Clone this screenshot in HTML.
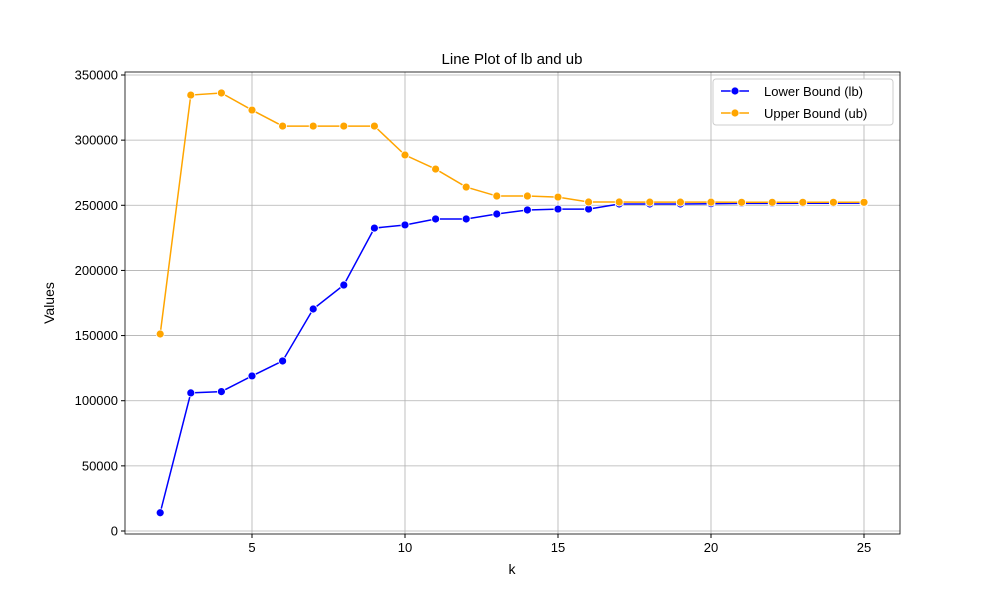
<!DOCTYPE html>
<html><head><meta charset="utf-8"><style>
body{margin:0;background:#fff;}
svg{display:block;font-family:"Liberation Sans","DejaVu Sans",sans-serif;}
</style></head><body>
<svg id="chart" width="1000" height="600" viewBox="0 0 1000 600" xmlns="http://www.w3.org/2000/svg">
<rect width="1000" height="600" fill="#fff"/>
<text x="512" y="64" font-size="15" text-anchor="middle">Line Plot of lb and ub</text>
<g id="grid"></g>
<g id="axes"></g>
<g id="series"></g>
<text x="512" y="574" font-size="14" text-anchor="middle">k</text>
<text x="54" y="303" font-size="14" text-anchor="middle" transform="rotate(-90 54 303)">Values</text>
<g>
<rect x="713" y="79" width="180" height="46" fill="#fff" stroke="#ccc" rx="3"/>
<line x1="721" y1="91" x2="749" y2="91" stroke="blue" stroke-width="1.5"/>
<circle cx="735" cy="91" r="4" fill="blue" stroke="#fff" stroke-width="0.8"/>
<text x="764" y="96" font-size="13">Lower Bound (lb)</text>
<line x1="721" y1="113" x2="749" y2="113" stroke="orange" stroke-width="1.5"/>
<circle cx="735" cy="113" r="4" fill="orange" stroke="#fff" stroke-width="0.8"/>
<text x="764" y="118" font-size="13">Upper Bound (ub)</text>
</g>
</svg>
<script>
const ks=[2,3,4,5,6,7,8,9,10,11,12,13,14,15,16,17,18,19,20,21,22,23,24,25];
const lb=[14000,106000,107000,119000,130500,170400,188800,232500,234900,239500,239500,243300,246400,247100,247100,251000,251000,251000,251200,251500,251500,251600,251600,251700];
const ub=[151200,334600,336200,323100,310800,310800,310800,310800,288600,277800,264000,257100,257100,256300,252500,252500,252400,252400,252400,252300,252300,252300,252300,252300];
const xTicks=[5,10,15,20,25];
const yTicks=[0,50000,100000,150000,200000,250000,300000,350000];
const L=125,R=900,T=72,B=534;
const xs=k=>160.2+(k-2)*30.6;
const ys=v=>531-v*456/350000;
const NS="http://www.w3.org/2000/svg";
function mk(tag,attrs,parent){const e=document.createElementNS(NS,tag);for(const a in attrs)e.setAttribute(a,attrs[a]);parent.appendChild(e);return e;}
const grid=document.getElementById('grid'),axes=document.getElementById('axes'),ser=document.getElementById('series');
xTicks.forEach(t=>{const x=xs(t);
 const g=mk('line',{x1:x,x2:x,y1:T,y2:B,stroke:'#b0b0b0','stroke-width':0.8},grid);
 
 
 mk('line',{x1:x,x2:x,y1:B,y2:B+4,stroke:'#000'},axes);
 const tx=mk('text',{x:x,y:B+18,'font-size':13,'text-anchor':'middle'},axes);tx.textContent=t;
 
 
});
yTicks.forEach(t=>{const y=ys(t);
 const g=mk('line',{x1:L,x2:R,y1:y,y2:y,stroke:'#b0b0b0','stroke-width':0.8},grid);
 
 
 mk('line',{x1:L-4,x2:L,y1:y,y2:y,stroke:'#000'},axes);
 const tx=mk('text',{x:L-7,y:y+4.5,'font-size':13,'text-anchor':'end'},axes);tx.textContent=t;
 
 
});
const fr=mk('rect',{x:L,y:T,width:R-L,height:B-T,fill:'none',stroke:'#000','stroke-width':0.8},axes);


function series(vals,color,name){
 const p=mk('polyline',{points:ks.map((k,i)=>xs(k)+','+ys(vals[i])).join(' '),fill:'none',stroke:color,'stroke-width':1.5},ser);
 
 
 ks.forEach((k,i)=>{const c=mk('circle',{cx:xs(k),cy:ys(vals[i]),r:4,fill:color,stroke:'#fff','stroke-width':0.8},ser);
  
  });
}
series(lb,'blue','lb');
series(ub,'orange','ub');
</script>
</body></html>
